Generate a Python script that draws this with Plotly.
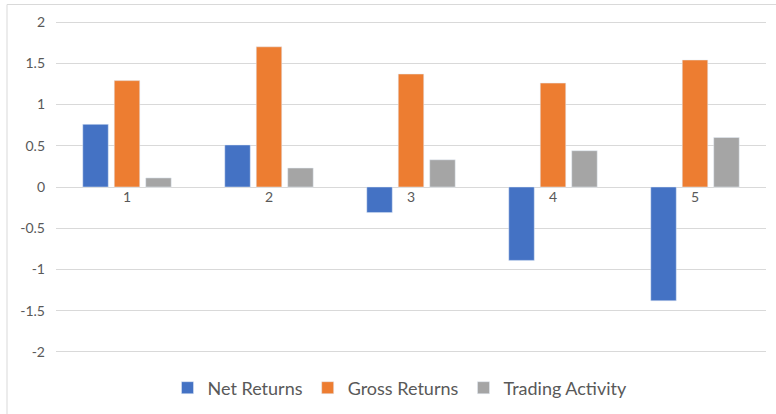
import plotly.graph_objects as go

categories = ["1", "2", "3", "4", "5"]
net_returns = [0.76, 0.51, -0.31, -0.89, -1.38]
gross_returns = [1.29, 1.70, 1.37, 1.26, 1.54]
trading_activity = [0.11, 0.23, 0.33, 0.44, 0.60]
y_ticks = [2, 1.5, 1, 0.5, 0, -0.5, -1, -1.5, -2]
y_tick_labels = ["2", "1.5", "1", "0.5", "0", "-0.5", "-1", "-1.5", "-2"]

W, H = 776, 414
L, R, T, B = 56, 10, 20, 60
pw, ph = W - L - R, H - T - B

def px_x(x):
    return (x - L) / pw

def px_y(y):
    return (H - B - y) / ph

fig = go.Figure()
fig.add_trace(go.Bar(name="Net Returns", x=categories, y=net_returns, marker_color="#4472C4"))
fig.add_trace(go.Bar(name="Gross Returns", x=categories, y=gross_returns, marker_color="#ED7D31"))
fig.add_trace(go.Bar(name="Trading Activity", x=categories, y=trading_activity, marker_color="#A5A5A5"))

font_family = "Lato, 'Open Sans', sans-serif"
fig.update_layout(
    width=W, height=H,
    margin=dict(l=L, r=R, t=T, b=B, autoexpand=False),
    paper_bgcolor="white", plot_bgcolor="white",
    barmode="group", bargap=0.335, bargroupgap=0.19,
    font=dict(family=font_family, size=14, color="#595959"),
    showlegend=True,
    legend=dict(orientation="h", x=px_x(400), xanchor="center", y=px_y(388), yanchor="middle",
                font=dict(size=18, color="#595959"), itemwidth=30, traceorder="normal"),
    xaxis=dict(type="category", anchor="free", position=0.5, showline=False, ticks="",
               showgrid=False, tickfont=dict(size=14, color="#595959")),
    yaxis=dict(range=[-2.025, 2.025], tickvals=y_ticks, ticktext=y_tick_labels, showgrid=True,
               gridcolor="#D9D9D9", gridwidth=1, zeroline=True, zerolinecolor="#D9D9D9",
               zerolinewidth=1, showline=False, ticks="", ticklabelstandoff=10,
               tickfont=dict(size=14, color="#595959")),
    shapes=[dict(type="rect", xref="paper", yref="paper",
                 x0=px_x(7), x1=px_x(W + 10), y0=px_y(H + 10), y1=px_y(4.5),
                 line=dict(color="#D9D9D9", width=1), fillcolor="rgba(0,0,0,0)", layer="below")],
)

fig.write_html("out.html", config={"displayModeBar": False},
               post_script="document.body.style.margin='0';document.body.style.overflow='hidden';")
